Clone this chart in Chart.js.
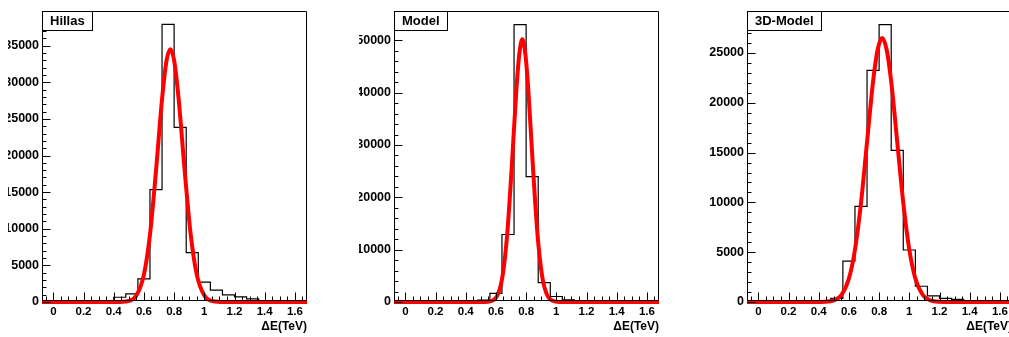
<!DOCTYPE html>
<html>
<head>
<meta charset="utf-8">
<script src="https://cdn.jsdelivr.net/npm/chart.js@4.4.1/dist/chart.umd.min.js"></script>
<style>
  html, body { margin: 0; padding: 0; background: #fff; }
  body { width: 1009px; height: 337px; overflow: hidden; position: relative; }
  canvas { position: absolute; top: 0; }
</style>
</head>
<body>
<canvas id="chartHillas" width="304" height="337" style="left:8px"></canvas>
<canvas id="chartModel" width="305" height="337" style="left:359px"></canvas>
<canvas id="chart3D" width="317" height="337" style="left:700px"></canvas>
<script>
// histogram bins (lower edges + last upper edge)
const binEdges = [-0.08, 0, 0.08, 0.16, 0.24, 0.32, 0.4, 0.48, 0.56, 0.64, 0.72, 0.8,
  0.88, 0.96, 1.04, 1.12, 1.2, 1.28, 1.36, 1.44, 1.52, 1.6, 1.68];

const hillasCounts = [0, 0, 10, 30, 60, 150, 650, 1100, 3170, 15350, 37900, 23850,
  6750, 2720, 1610, 980, 700, 420, 150, 80, 40, 20];
const modelCounts = [0, 0, 0, 0, 0, 20, 100, 380, 1640, 12900, 53000, 23950,
  3700, 1050, 400, 150, 60, 30, 10, 0, 0, 0];
const model3dCounts = [0, 0, 0, 10, 30, 80, 150, 360, 4100, 9600, 23260, 27860,
  15220, 5220, 1580, 625, 360, 260, 100, 50, 20, 10];

// gaussian fit curves
const hillasFitX = [-0.08, 0.4, 0.45, 0.5, 0.55, 0.6, 0.64, 0.68, 0.72, 0.75, 0.775,
  0.8, 0.83, 0.87, 0.91, 0.95, 1.0, 1.05, 1.1, 1.15, 1.68];
const hillasFitY = [0, 1, 15, 143, 880, 3740, 9180, 17920, 27700, 32980, 34500,
  32980, 27700, 17920, 9180, 3740, 880, 143, 15, 1, 0];

const modelFitX = [-0.08, 0.475, 0.525, 0.575, 0.615, 0.645, 0.675, 0.705, 0.735, 0.755,
  0.775, 0.795, 0.815, 0.845, 0.875, 0.905, 0.935, 0.975, 1.025, 1.075, 1.68];
const modelFitY = [0, 0, 11, 230, 1600, 5160, 13040, 25870, 40320, 47380,
  50200, 47380, 40320, 25870, 13040, 5160, 1600, 230, 11, 0, 0];

const model3dFitX = [-0.08, 0.37, 0.44, 0.5, 0.55, 0.6, 0.64, 0.68, 0.72, 0.76, 0.79,
  0.82, 0.85, 0.88, 0.92, 0.96, 1.0, 1.04, 1.09, 1.14, 1.2, 1.27, 1.68];
const model3dFitY = [0, 1, 19, 158, 692, 2360, 5250, 9940, 16070, 22140, 25330,
  26500, 25330, 22140, 16070, 9940, 5250, 2360, 692, 158, 19, 1, 0];

// axes
const xTickValues = [0, 0.2, 0.4, 0.6, 0.8, 1, 1.2, 1.4, 1.6];
const hillasYTicks = [0, 5000, 10000, 15000, 20000, 25000, 30000, 35000];
const modelYTicks = [0, 10000, 20000, 30000, 40000, 50000];
const model3dYTicks = [0, 5000, 10000, 15000, 20000, 25000];

const FONT = "'Liberation Sans', Arial, Helvetica, sans-serif";

// ROOT style frame: box, inner ticks, pave label, axis title
const rootFrame = {
  id: "rootFrame",
  afterDatasetsDraw(chart, args, opts) {
    const { ctx, chartArea: a, scales } = chart;
    const sx = scales.x;
    const sy = scales.y;
    const L = Math.round(a.left) + 0.5;
    const R = Math.round(a.right) - 0.5;
    const T = Math.round(a.top) + 0.5;
    const B = Math.round(a.bottom) - 1.5;

    ctx.save();
    ctx.strokeStyle = "#000";
    ctx.lineWidth = 1;
    ctx.beginPath();
    ctx.moveTo(L, T);
    ctx.lineTo(R, T);
    ctx.lineTo(R, B);
    ctx.lineTo(L, B);
    ctx.closePath();
    ctx.stroke();

    // x ticks, every 0.05, major every 0.2
    ctx.beginPath();
    for (let i = -1; i <= 33; i++) {
      const v = i * 0.05;
      if (v < sx.min || v > sx.max) continue;
      const px = Math.round(sx.getPixelForValue(v)) + 0.5;
      const len = i % 4 === 0 ? 8 : 4;
      ctx.moveTo(px, B);
      ctx.lineTo(px, B - len);
    }
    // y ticks
    for (let v = 0; v <= sy.max; v += opts.minorStep) {
      const py = Math.round(sy.getPixelForValue(v)) + 0.5;
      const len = v % opts.majorStep === 0 ? 8 : 4;
      ctx.moveTo(L, py);
      ctx.lineTo(L + len, py);
    }
    ctx.stroke();

    // label box
    ctx.font = "bold 13px " + FONT;
    const w = Math.round(ctx.measureText(opts.label).width) + 15;
    ctx.fillStyle = "#fff";
    ctx.fillRect(L, T, w, 19);
    ctx.strokeRect(L, T, w, 19);
    ctx.fillStyle = "#000";
    ctx.textBaseline = "middle";
    ctx.textAlign = "left";
    ctx.fillText(opts.label, L + 7.5, T + 10);

    // x axis title
    ctx.font = "bold 12px " + FONT;
    ctx.textAlign = "right";
    ctx.fillText("\u0394E(TeV)", a.right, 327);
    ctx.restore();
  },
};

function makeChart(id, label, counts, fitX, fitY, yTicks, yMax, yWidth, minorStep, majorStep) {
  const histData = binEdges.map((x, i) => ({
    x: x,
    y: i < counts.length ? counts[i] : counts[counts.length - 1],
  }));
  const fitData = fitX.map((x, i) => ({ x: x, y: fitY[i] }));

  return new Chart(document.getElementById(id), {
    type: "line",
    data: {
      datasets: [
        {
          data: fitData,
          borderColor: "#ff0000",
          borderWidth: 4,
          pointRadius: 0,
          cubicInterpolationMode: "monotone",
          clip: { left: 0, top: 0, right: 0, bottom: 5 },
        },
        {
          data: histData,
          stepped: true,
          borderColor: "#000",
          borderWidth: 1.2,
          pointRadius: 0,
        },
      ],
    },
    options: {
      responsive: false,
      animation: false,
      layout: { padding: { top: 5, right: 5, left: 0, bottom: 0 }, autoPadding: false },
      plugins: {
        legend: { display: false },
        tooltip: { enabled: false },
        rootFrame: { label: label, minorStep: minorStep, majorStep: majorStep },
      },
      scales: {
        x: {
          type: "linear",
          min: -0.075,
          max: 1.68,
          grid: { display: false, drawTicks: false },
          border: { display: false },
          afterBuildTicks: (s) => {
            s.ticks = xTickValues.map((v) => ({ value: v }));
          },
          afterFit: (s) => {
            s.height = 35;
          },
          ticks: {
            padding: 3,
            color: "#000",
            font: { family: FONT, size: 11.5, weight: "bold" },
            callback: (v) => String(v),
            maxRotation: 0,
            autoSkip: false,
          },
        },
        y: {
          min: 0,
          max: yMax,
          grid: { display: false, drawTicks: false },
          border: { display: false },
          afterBuildTicks: (s) => {
            s.ticks = yTicks.map((v) => ({ value: v }));
          },
          afterFit: (s) => {
            s.width = yWidth;
          },
          ticks: {
            padding: 3,
            color: "#000",
            font: { family: FONT, size: 12.5, weight: "bold" },
            callback: (v) => String(v),
          },
        },
      },
    },
    plugins: [rootFrame],
  });
}

makeChart("chartHillas", "Hillas", hillasCounts, hillasFitX, hillasFitY, hillasYTicks, 39800, 34, 1000, 5000);
makeChart("chartModel", "Model", modelCounts, modelFitX, modelFitY, modelYTicks, 55700, 35, 2000, 10000);
makeChart("chart3D", "3D-Model", model3dCounts, model3dFitX, model3dFitY, model3dYTicks, 29270, 47, 1000, 5000);
</script>
</body>
</html>
